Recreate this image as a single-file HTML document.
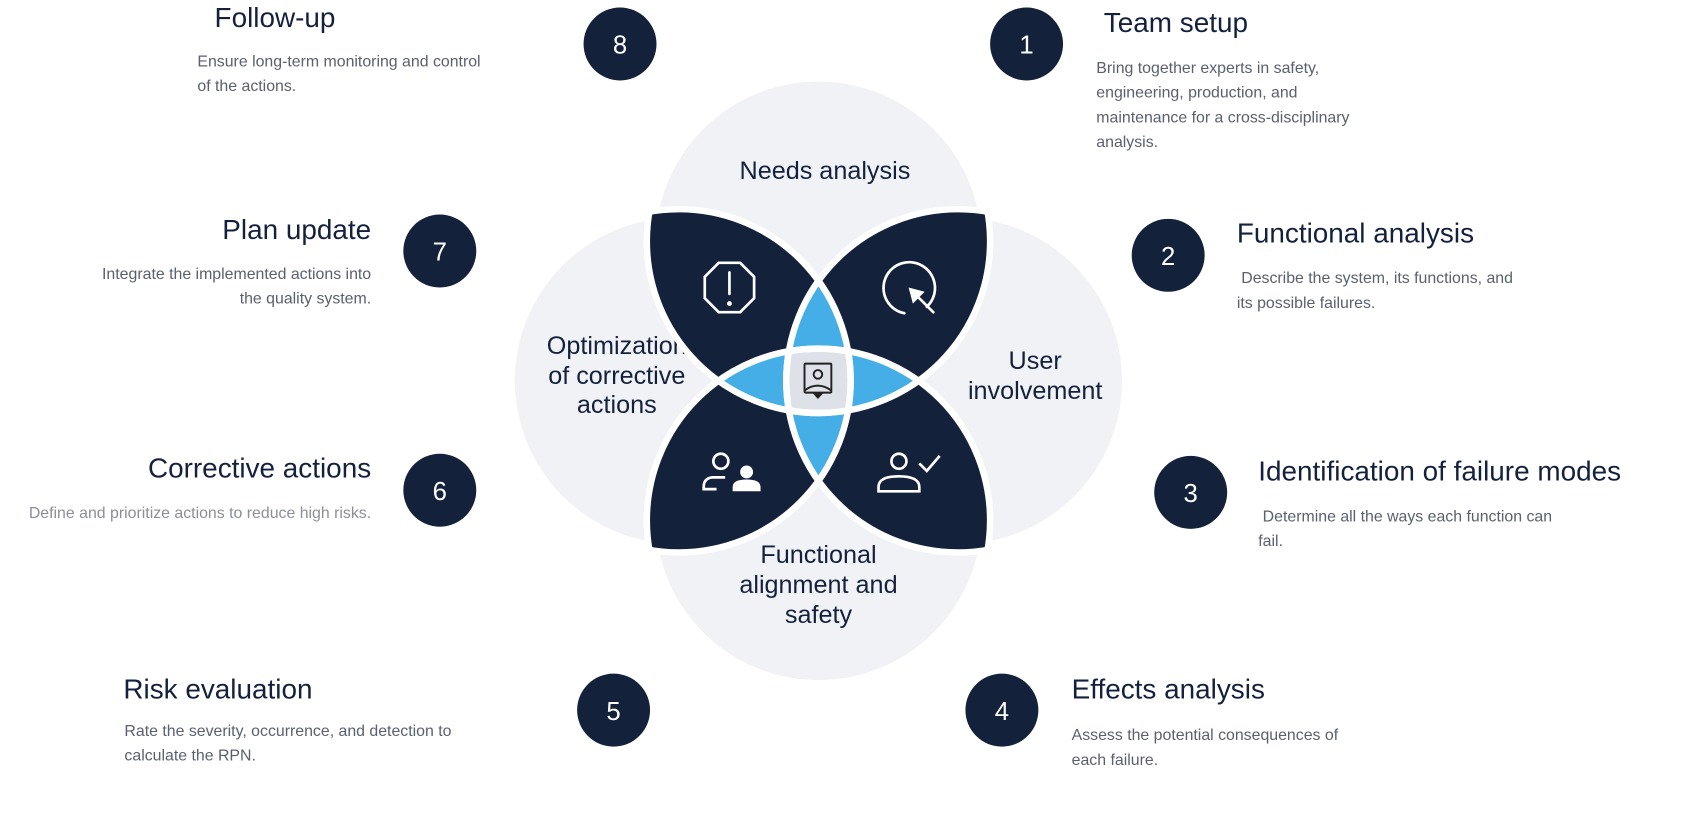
<!DOCTYPE html>
<html><head><meta charset="utf-8"><style>
html,body{margin:0;padding:0;background:#fff;width:1682px;height:817px;overflow:hidden}
#w{position:absolute;left:0;top:0;width:1568px;height:761px;transform:scale(1.07270);transform-origin:0 0;font-family:"Liberation Sans",sans-serif}
.t{position:absolute;font-size:26px;color:#14213d;white-space:nowrap;line-height:28px}
.d{position:absolute;font-size:14.8px;color:#5a6070;line-height:23px}
.r{text-align:right}
svg{position:absolute;left:0;top:0}
</style></head><body><div id="w">
<svg width="1568" height="761" viewBox="0 0 1568 761">
<defs>
<clipPath id="cT"><circle cx="763" cy="225" r="160"/></clipPath>
<clipPath id="cL"><circle cx="633" cy="355" r="160"/></clipPath>
<clipPath id="cR"><circle cx="893" cy="355" r="160"/></clipPath>
<clipPath id="cB"><circle cx="763" cy="485" r="160"/></clipPath>
</defs>
<g fill="#f1f2f6">
<circle cx="763" cy="228" r="152"/><circle cx="632" cy="355" r="152"/>
<circle cx="894" cy="355" r="152"/><circle cx="763" cy="482" r="152"/>
</g>
<g font-family="Liberation Sans, sans-serif" font-size="23.5" fill="#14213d" text-anchor="middle">
<text x="769" y="167">Needs analysis</text>
<text x="575" y="330">Optimization</text><text x="575" y="358">of corrective</text><text x="575" y="385">actions</text>
<text x="965" y="344">User</text><text x="965" y="372">involvement</text>
<text x="763" y="525">Functional</text><text x="763" y="553">alignment and</text><text x="763" y="581">safety</text>
</g>
<g fill="#13213b">
<g clip-path="url(#cL)"><circle cx="763" cy="225" r="160"/></g>
<g clip-path="url(#cR)"><circle cx="763" cy="225" r="160"/></g>
<g clip-path="url(#cL)"><circle cx="763" cy="485" r="160"/></g>
<g clip-path="url(#cR)"><circle cx="763" cy="485" r="160"/></g>
</g>
<g fill="#45aee6">
<g clip-path="url(#cL)"><g clip-path="url(#cR)"><circle cx="763" cy="225" r="160"/></g></g>
<g clip-path="url(#cL)"><g clip-path="url(#cR)"><circle cx="763" cy="485" r="160"/></g></g>
<g clip-path="url(#cT)"><g clip-path="url(#cB)"><circle cx="633" cy="355" r="160"/></g></g>
<g clip-path="url(#cT)"><g clip-path="url(#cB)"><circle cx="893" cy="355" r="160"/></g></g>
</g>
<g fill="#dfe1e8" clip-path="url(#cL)"><g clip-path="url(#cR)"><g clip-path="url(#cB)"><circle cx="763" cy="225" r="160"/></g></g></g>
<g fill="none" stroke="#fff" stroke-width="6">
<g clip-path="url(#cL)"><circle cx="763" cy="225" r="160"/></g>
<g clip-path="url(#cR)"><circle cx="763" cy="225" r="160"/></g>
<g clip-path="url(#cL)"><circle cx="763" cy="485" r="160"/></g>
<g clip-path="url(#cR)"><circle cx="763" cy="485" r="160"/></g>
<g clip-path="url(#cT)"><circle cx="633" cy="355" r="160"/></g>
<g clip-path="url(#cB)"><circle cx="633" cy="355" r="160"/></g>
<g clip-path="url(#cT)"><circle cx="893" cy="355" r="160"/></g>
<g clip-path="url(#cB)"><circle cx="893" cy="355" r="160"/></g>
</g>
<!-- icons -->
<g fill="none" stroke="#fff" stroke-width="2.5" stroke-linecap="round">
<polygon points="670,245 690,245 703,258 703,278 690,291 670,291 657,278 657,258"/>
<line x1="680" y1="254" x2="680" y2="274"/>
<circle cx="680" cy="283" r="1" fill="#fff"/>
<path d="M864,286 A24,24 0 1 0 843,292"/>
<path d="M870,291 L853,274"/>
</g>
<polygon points="847,268 862,272 851,283" fill="#fff"/>
<g fill="none" stroke="#fff" stroke-width="2.5">
<circle cx="672" cy="430" r="7"/>
<path d="M676,445 L664,445 Q656,446 656,454 L656,456 L668,456"/>
<circle cx="838" cy="430" r="7"/>
<path d="M819,458 L819,454 Q819,444 838,444 Q857,444 857,454 L857,458 Z"/>
<path d="M857,432 L864,439 L876,425"/>
</g>
<circle cx="696" cy="440" r="6" fill="#fff"/>
<path d="M683,458 L683,454 Q683,447 696,447 Q709,447 709,454 L709,458 Z" fill="#fff"/>
<g fill="none" stroke="#222" stroke-width="1.8">
<rect x="750" y="339" width="25" height="27" rx="1"/>
<circle cx="762.5" cy="349" r="4"/>
<path d="M750,364 Q762,355 775,364"/>
</g>
<polygon points="757,366 768,366 762.5,372" fill="#222"/>
<!-- number circles -->
<g fill="#13213b">
<circle cx="578" cy="41" r="34"/><circle cx="957" cy="41" r="34"/>
<circle cx="410" cy="234" r="34"/><circle cx="1089" cy="238" r="34"/>
<circle cx="410" cy="457" r="34"/><circle cx="1110" cy="459" r="34"/>
<circle cx="572" cy="662" r="34"/><circle cx="934" cy="662" r="34"/>
</g>
<g fill="#fff" font-family="Liberation Sans, sans-serif" font-size="24" text-anchor="middle">
<text x="578" y="50">8</text><text x="957" y="50">1</text>
<text x="410" y="243">7</text><text x="1089" y="247">2</text>
<text x="410" y="466">6</text><text x="1110" y="468">3</text>
<text x="572" y="671">5</text><text x="934" y="671">4</text>
</g>
</svg>
<div class="t" style="left:200px;top:2px">Follow-up</div>
<div class="d" style="left:184px;top:47px;width:272px">Ensure long-term monitoring and control of the actions.</div>
<div class="t" style="left:1029px;top:7px">Team setup</div>
<div class="d" style="left:1022px;top:53px;width:255px">Bring together experts in safety, engineering, production, and maintenance for a cross-disciplinary analysis.</div>
<div class="t r" style="right:1222px;top:200px">Plan update</div>
<div class="d r" style="right:1222px;top:245px;width:258px">Integrate the implemented actions into the quality system.</div>
<div class="t" style="left:1153px;top:203px">Functional analysis</div>
<div class="d" style="left:1153px;top:249px;width:266px">&nbsp;Describe the system, its functions, and its possible failures.</div>
<div class="t r" style="right:1222px;top:422px">Corrective actions</div>
<div class="d r" style="right:1222px;top:468px;color:#8a8f9a;white-space:nowrap">Define and prioritize actions to reduce high risks.</div>
<div class="t" style="left:1173px;top:425px">Identification of failure modes</div>
<div class="d" style="left:1173px;top:471px;width:282px">&nbsp;Determine all the ways each function can fail.</div>
<div class="t" style="left:115px;top:628px">Risk evaluation</div>
<div class="d" style="left:116px;top:671px;width:320px">Rate the severity, occurrence, and detection to calculate the RPN.</div>
<div class="t" style="left:999px;top:628px">Effects analysis</div>
<div class="d" style="left:999px;top:675px;width:262px">Assess the potential consequences of each failure.</div>
</div></body></html>
